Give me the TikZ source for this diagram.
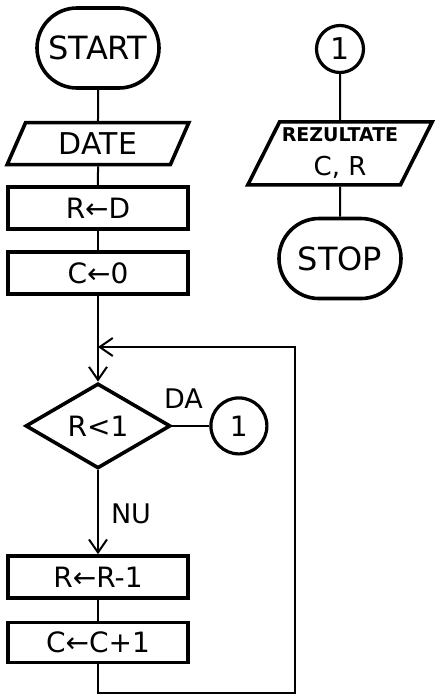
\documentclass[tikz,border=0pt]{standalone}
\usepackage{fontspec}
\setmainfont{DejaVu Sans}
\usetikzlibrary{
    arrows.meta,
    positioning,
    shapes.geometric,
    shapes.misc
}
\tikzset{
  outline/.style = {draw, line width=1.8pt, inner sep=1pt, align=center},
  flow/.style    = {line width=1pt},
  arr/.style     = {flow, -{Straight Barb[length=6.5pt, width=9pt, line width=1pt]}}
}

\begin{document}
\begin{tikzpicture}[
    x=0.5pt, y=0.5pt,
    node distance = 9.5pt and 18.5pt,
    term/.style  = {outline, rounded rectangle, minimum width=63pt,
                    minimum height=40pt, font=\fontsize{16}{18}\selectfont},
    io/.style    = {outline, trapezium, trapezium stretches=true,
                    trapezium left angle=68, trapezium right angle=112,
                    minimum width=91pt, minimum height=21pt,
                    font=\fontsize{15}{17}\selectfont},
    box/.style   = {outline, rectangle, minimum width=90pt,
                    minimum height=21pt, font=\fontsize{14}{16}\selectfont},
    dec/.style   = {outline, diamond, minimum width=72.5pt,
                    minimum height=42.5pt, inner sep=0pt,
                    font=\fontsize{14}{16}\selectfont},
    conn/.style  = {outline, circle, line width=1.6pt, inner sep=0pt},
    lbl/.style   = {inner sep=0pt, font=\fontsize{13.5}{15}\selectfont},
  ]
  \useasboundingbox (0,0) rectangle (438,-697);

  % main column
  \node[term] (start) at (98,-48) {START};
  \node[io, below=15.5pt of start] (date) {DATE};
  \node[box, below=of date]        (rd)   {R←D};
  \node[box, below=of rd]          (c0)   {C←0};
  \node[dec, below=43pt of c0]     (cond) {R<1};
  \node[conn, minimum size=28pt, font=\fontsize{14}{16}\selectfont,
        right=of cond]             (outa) {1};
  \node[box, below=42pt of cond]   (rr)   {R←R-1};
  \node[box, minimum height=20pt,
        below=10.5pt of rr]        (cc)   {C←C+1};

  % output column
  \node[conn, minimum size=23.5pt, font=\fontsize{15}{17}\selectfont]
        (outb) at (340,-49) {1};
  \node[io, trapezium left angle=60, trapezium right angle=120,
        minimum width=93pt, minimum height=31.5pt,
        below=23pt of outb]        (rez)
        {\fontsize{9.5}{12}\selectfont\bfseries REZULTATE\\
         \fontsize{13}{14}\selectfont C, R};
  \node[term, below=15pt of rez]   (stop) {STOP};

  \coordinate (join) at (98,-347);
  \coordinate (back) at (295,-693);

  \draw[flow] (start) -- (date);
  \draw[flow] (date)  -- (rd);
  \draw[flow] (rd)    -- (c0);
  \draw[arr]  (c0)    -- (cond);
  \draw[flow] (cond)  -- node[lbl, above=8pt, pos=0.3] {DA} (outa);
  \draw[arr]  (cond)  -- node[lbl, right=6pt, pos=0.52] {NU} (rr);
  \draw[flow] (rr)    -- (cc);
  \draw[arr]  (cc)    |- (back) |- (join);

  \draw[flow] (outb)  -- (rez);
  \draw[flow] (rez)   -- (stop);

\end{tikzpicture}
\end{document}
